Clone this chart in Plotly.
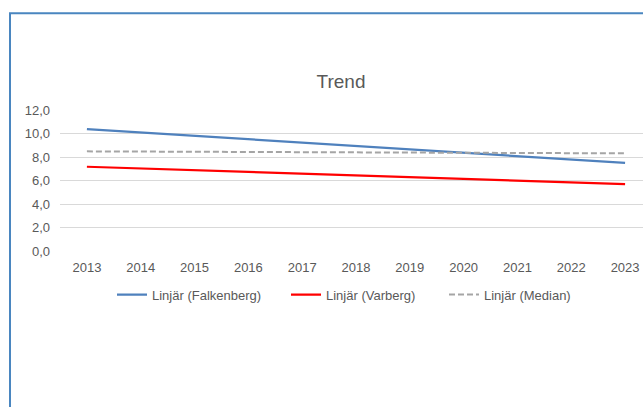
import plotly.graph_objects as go

years = ["2013", "2014", "2015", "2016", "2017", "2018", "2019", "2020", "2021", "2022", "2023"]
falkenberg = [10.38, 10.09, 9.80, 9.51, 9.22, 8.93, 8.65, 8.36, 8.07, 7.78, 7.49]
varberg = [7.17, 7.02, 6.88, 6.73, 6.58, 6.44, 6.29, 6.14, 5.99, 5.85, 5.70]
median = [8.48, 8.46, 8.45, 8.43, 8.41, 8.40, 8.38, 8.36, 8.34, 8.33, 8.31]
names = ["Linjär (Falkenberg)", "Linjär (Varberg)", "Linjär (Median)"]
y_ticks = [0, 2, 4, 6, 8, 10, 12]
title_text = "Trend"

W, H = 643, 407
L, R = 60, 643          # plot area left/right in px
T, B = 110, 251.3       # plot area top/bottom in px


def px_x(p):
    return (p - L) / (R - L)


def px_y(p):
    return (B - p) / (B - T)


font_family = "Liberation Sans, Arial, sans-serif"
grey = "#595959"

fig = go.Figure()
fig.add_trace(go.Scatter(x=years, y=falkenberg, mode="lines", name=names[0], showlegend=True,
                         line=dict(color="#4f81bd", width=2.25), legend="legend"))
fig.add_trace(go.Scatter(x=years, y=varberg, mode="lines", name=names[1], showlegend=True,
                         line=dict(color="#ff0000", width=2.25), legend="legend2"))
fig.add_trace(go.Scatter(x=years, y=median, mode="lines", name=names[2], showlegend=True,
                         line=dict(color="#a5a5a5", width=2, dash="6px,3px"), legend="legend3"))

leg_common = dict(orientation="h", yanchor="middle", y=px_y(295),
                  xanchor="left", font=dict(family=font_family, size=13, color=grey),
                  bgcolor="rgba(0,0,0,0)", borderwidth=0)

fig.update_layout(
    width=W, height=H,
    showlegend=True,
    margin=dict(l=L, r=W - R, t=T, b=H - B, pad=0),
    paper_bgcolor="white", plot_bgcolor="white",
    separators=", ",
    title=dict(text=title_text, x=px_x(341), xref="paper", xanchor="center",
               y=1 - 81 / H, yanchor="middle",
               font=dict(family=font_family, size=19, color=grey)),
    xaxis=dict(type="category", range=[-0.5, 10.333], showgrid=False, showline=False,
               zeroline=False, ticks="", tickfont=dict(family=font_family, size=13, color=grey),
               ticklabelstandoff=7),
    yaxis=dict(range=[0, 12], tickvals=y_ticks, tickformat=".1f", showgrid=True,
               gridcolor="#d9d9d9", gridwidth=1, zeroline=False, showline=False, ticks="",
               tickfont=dict(family=font_family, size=13, color=grey),
               ticklabelstandoff=9),
    legend=dict(**leg_common, x=px_x(112)),
    legend2=dict(**leg_common, x=px_x(286)),
    legend3=dict(**leg_common, x=px_x(444)),
    shapes=[dict(type="rect", xref="paper", yref="paper",
                 x0=px_x(10), x1=px_x(720), y0=px_y(13), y1=px_y(460),
                 line=dict(color="#4a86c0", width=2), fillcolor="rgba(0,0,0,0)", layer="below")],
)

fig.write_html("out.html", config={"displayModeBar": False},
               post_script="document.body.style.margin='0';document.body.style.overflow='hidden';")
